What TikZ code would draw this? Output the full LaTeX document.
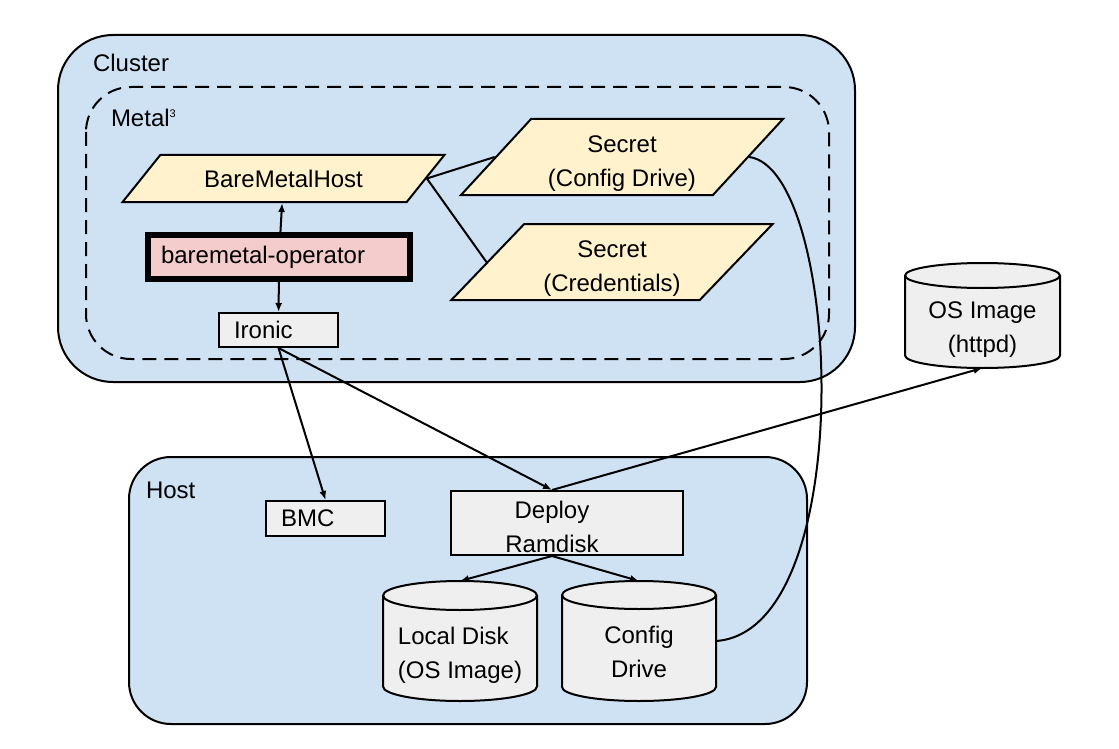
\documentclass[tikz,border=0pt]{standalone}
\usepackage{fontspec}
\setmainfont{Liberation Sans}
\usetikzlibrary{shapes.geometric,arrows.meta}
\definecolor{clusterblue}{HTML}{CFE2F3}
\definecolor{crdyellow}{HTML}{FFF2CC}
\definecolor{oppink}{HTML}{F4CCCC}
\definecolor{boxgrey}{HTML}{EFEFEF}
% drum outline round a disk node: #1 node, #2 x radius, #3 y radius of the ends
\newcommand{\drawdrum}[3]{%
  \draw[fill=boxgrey] ([yshift=-#3]#1.north west) -- ([yshift=#3]#1.south west)
    arc[start angle=180,end angle=360,x radius=#2,y radius=#3]
    -- ([yshift=-#3]#1.north east)
    arc[start angle=0,end angle=180,x radius=#2,y radius=#3] -- cycle;
  \draw ([yshift=-#3]#1.north west) arc[start angle=180,end angle=360,x radius=#2,y radius=#3];}
\begin{document}
\begin{tikzpicture}[x=1pt,y=-1pt,line width=2pt,
    every node/.style={font=\fontsize{24}{34}\selectfont},
    >={Latex[length=9pt,width=7pt]},
    crd/.style={draw,fill=crdyellow,trapezium,trapezium stretches=true,minimum width=322pt,inner sep=0pt,align=center},
    svc/.style={draw,fill=boxgrey,align=left,text width=89pt,inner xsep=15pt,inner ysep=0pt},
    disk/.style={outer sep=0pt,minimum width=154pt,minimum height=120pt},
    tag/.style={anchor=base west,inner sep=0pt}]
\useasboundingbox (0,0) rectangle (1119,749);
% cluster side
\draw[fill=clusterblue,rounded corners=55pt] (58,35) rectangle (855,382);
\node[tag] (clusterlabel) at (92,72) {Cluster};
\draw[dash pattern=on 14pt off 8pt,rounded corners=45pt] (86,87) rectangle (829,359);
\node[tag] (metallabel) at (110,127) {Metal\raisebox{9pt}{\fontsize{11}{11}\selectfont 3}};
% host side
\draw[fill=clusterblue,rounded corners=42pt] (129,457) rectangle (807,724);
\node[tag] (hostlabel) at (145,498) {Host};

\node[crd,trapezium left angle=36,trapezium right angle=144,minimum height=47pt] (bmh) at (283.5,178.5) {BareMetalHost};
\node[crd,trapezium left angle=50,trapezium right angle=130,minimum height=76pt,text height=63pt] (seccfg) at (622,157) {Secret\\(Config Drive)};
\node[crd,trapezium left angle=50,trapezium right angle=130,minimum height=76pt,text height=63pt] (seccred) at (612,262) {Secret\\(Credentials)};
\node[draw,line width=6pt,fill=oppink,align=left,text width=236pt,inner xsep=13pt,minimum height=44pt] (bmo) at (279,257) {baremetal-operator};
\node[svc,minimum height=34pt] (ironic) at (278.5,330) {Ironic};
\node[disk,minimum width=155pt,minimum height=105pt] (osimg) at (982.5,315.5) {};
\drawdrum{osimg}{77.5pt}{12.5pt}
\node[align=center] (ostext) at (982.5,330) {OS Image\\(httpd)};

\node[svc,minimum height=35pt] (bmc) at (325.5,518.5) {BMC};
\node[draw,fill=boxgrey,minimum width=232pt,minimum height=64pt] (deploy) at (567,523) {};
\node[align=center] (deploytext) at (552,527) {Deploy\\Ramdisk};
\node[disk] (ld) at (460,641) {};
\drawdrum{ld}{77pt}{14.5pt}
\node[align=left] (ldtext) at (460,655) {Local Disk\\(OS Image)};
\node[disk] (cfgdrive) at (639,641) {};
\drawdrum{cfgdrive}{77pt}{14pt}
\node[align=center] (cfgtext) at (639,652) {Config\\Drive};

% connectors
\draw[->] (bmo) -- (bmh);
\draw[->] (bmo) -- (ironic);
\draw (bmh.east) -- (seccfg.west);
\draw (bmh.east) -- (seccred.west);
\draw[->] (ironic.south) -- (bmc.north);
\draw[->] (ironic.south) -- (deploytext |- deploy.north);
\draw[->] (deploytext |- deploy.north) -- (osimg.south);
\draw[->] (deploytext |- deploy.south) -- (ld.north);
\draw[->] (deploytext |- deploy.south) -- (cfgdrive.north);
\draw (seccfg.east) .. controls (842,170) and (860,631) .. (cfgdrive.east);
\end{tikzpicture}
\end{document}
